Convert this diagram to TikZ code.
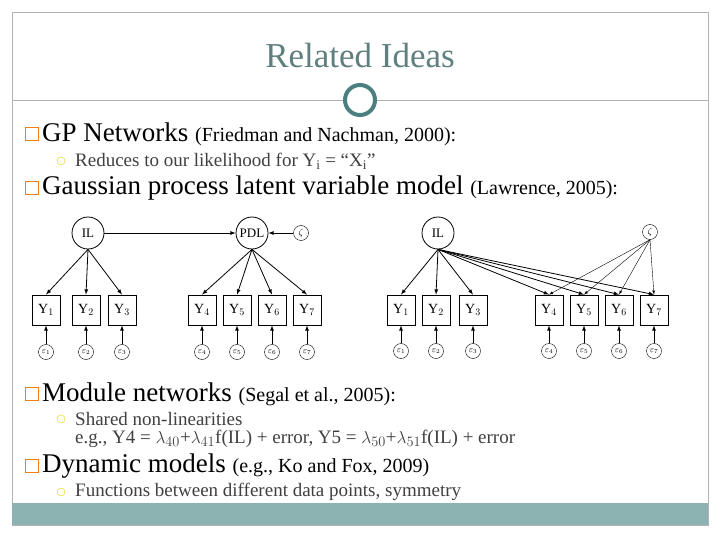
\documentclass[tikz,border=0pt]{standalone}
\usepackage{fontspec}
\setmainfont{Liberation Serif}
\begin{document}
\begin{tikzpicture}[x=1pt,y=-1pt,
 lat/.style={circle,draw,thick,minimum size=32pt,inner sep=0pt,font=\fontsize{13}{13}\selectfont},
 sml/.style={circle,draw,minimum size=15pt,inner sep=0pt,font=\fontsize{9}{9}\selectfont},
 obs/.style={draw,thick,minimum width=28pt,minimum height=30pt,inner sep=0pt,font=\fontsize{14}{14}\selectfont},
 ar/.style={->,>=latex,thick},
 bul/.style={draw=orange!70!brown,thick,minimum size=13pt,inner sep=0pt},
 ring/.style={circle,draw=yellow!70!olive,minimum size=8pt,inner sep=0pt},
 big/.style={anchor=west,inner sep=0pt,font=\fontsize{27}{27}\selectfont},
 cit/.style={font=\fontsize{20}{20}\selectfont},
 sub/.style={anchor=west,inner sep=0pt,text=black!75,font=\fontsize{19}{19}\selectfont}]
\useasboundingbox (0,0) rectangle (720,540);
\fill[white] (0,0) rectangle (720,540);
\draw[gray!60] (12,12) rectangle (708,525);
\fill[gray!50!teal!60] (12,503) rectangle (708,525);
\draw[gray!60] (12,100) -- (708,100);
\node[circle,draw=gray!60!teal,line width=4pt,fill=white,minimum size=30pt] (orn) at (360,100) {};
\node[text=gray!75!teal,font=\fontsize{35}{35}\selectfont] (title) at (360,56) {Related Ideas};
% bullets
\node[bul] (b1) at (32,134) {};
\node[big] (t1) at (42,134) {GP Networks {\fontsize{20}{20}\selectfont(Friedman and Nachman, 2000):}};
\node[ring] (r1) at (61,161) {};
\node[sub] (s1) at (75,161) {Reduces to our likelihood for Y$_\mathrm{i}$ = “X$_\mathrm{i}$”};
\node[bul] (b2) at (32,188) {};
\node[big] (t2) at (42,188) {Gaussian process latent variable model {\fontsize{20}{20}\selectfont(Lawrence, 2005):}};
\node[bul] (b3) at (32,394) {};
\node[big] (t3) at (42,394) {Module networks {\fontsize{20}{20}\selectfont(Segal et al., 2005):}};
\node[ring] (r3) at (61,419) {};
\node[sub] (s3) at (75,419) {Shared non-linearities};
\node[sub] (s3b) at (75,439) {e.g., Y4 = $\lambda_{40}$+$\lambda_{41}$f(IL) + error, Y5 = $\lambda_{50}$+$\lambda_{51}$f(IL) + error};
\node[bul] (b4) at (32,466) {};
\node[big] (t4) at (42,466) {Dynamic models {\fontsize{20}{20}\selectfont(e.g., Ko and Fox, 2009)}};
\node[ring] (r4) at (61,492) {};
\node[sub] (s4) at (75,492) {Functions between different data points, symmetry};
% left diagram
\node[lat] (IL) at (88,233) {IL};
\node[lat] (PDL) at (252,233) {PDL};
\node[sml] (z) at (301,233) {$\zeta$};
\draw[ar] (IL) -- (PDL);
\draw[ar] (z) -- (PDL);
\foreach \i/\x in {1/46,2/86,3/122,4/202,5/237,6/272,7/307}{
 \node[obs] (Y\i) at (\x,310) {Y$_{\i}$};
 \node[sml] (e\i) at (\x,352) {$\varepsilon_{\i}$};
 \draw[ar] (e\i) -- (Y\i);}
\foreach \i in {1,2,3}{\draw[ar] (IL.south) -- (Y\i.north);}
\foreach \i in {4,5,6,7}{\draw[ar] (PDL.south) -- (Y\i.north);}
% right diagram
\node[lat] (IL2) at (438,233) {IL};
\node[sml] (z2) at (650,232) {$\zeta$};
\foreach \i/\x in {1/401,2/436,3/473,4/549,5/584,6/619,7/654}{
 \node[obs] (W\i) at (\x,310) {Y$_{\i}$};
 \node[sml] (f\i) at (\x,351) {$\varepsilon_{\i}$};
 \draw[ar] (f\i) -- (W\i);}
\foreach \i in {1,2,3,4,5,6,7}{\draw[ar] (IL2.south) -- (W\i.north);}
\foreach \i in {4,5,6,7}{\draw[ar,thin] (z2.south) -- (W\i.north);}
\end{tikzpicture}
\end{document}
